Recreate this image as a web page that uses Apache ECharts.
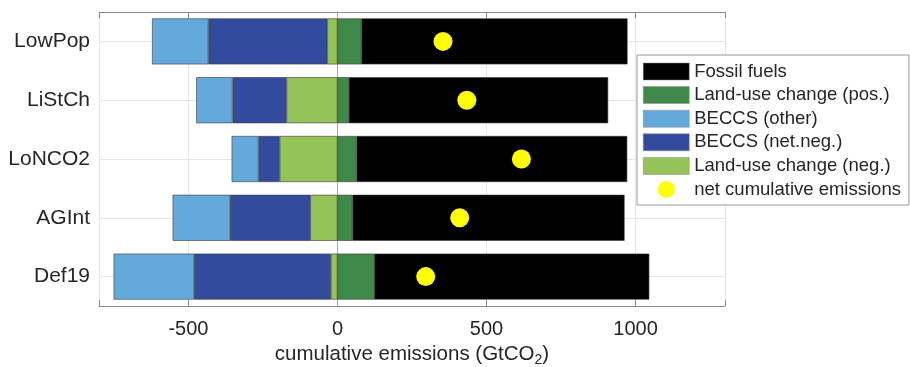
<!DOCTYPE html>
<html>
<head>
<meta charset="utf-8">
<script src="https://cdn.jsdelivr.net/npm/echarts@6/dist/echarts.min.js"></script>
<style>html,body{margin:0;padding:0;background:#fff}#c{width:910px;height:367px}</style>
</head>
<body>
<div id="c"></div>
<script>
const categories = ['LowPop', 'LiStCh', 'LoNCO2', 'AGInt', 'Def19'];
const fossilFuels = [893, 870, 908, 913, 923];
const lucPos = [80, 38, 64, 50, 123];
const lucNeg = [-34, -171, -194, -91, -22];
const beccsNetNeg = [-399, -181, -71, -269, -459];
const beccsOther = [-189, -122, -90, -193, -270];
const netCumulative = [354, 434, 617, 410, 296];
const xTickLabels = [-500, 0, 500, 1000];

const FONT = 'Liberation Sans, Arial, Helvetica, sans-serif';
const axisGray = '#8a8a8a';
const txt = '#262626';

const barBase = {
  type: 'bar', stack: 'total', barWidth: 46,
  xAxisIndex: 0, yAxisIndex: 0,
  itemStyle: { borderColor: '#3a3a3a', borderWidth: 0.6 },
  emphasis: { disabled: true }, z: 2
};

const chart = echarts.init(document.getElementById('c'));
chart.setOption({
  animation: false,
  textStyle: { fontFamily: FONT },
  grid: { left: 99, right: 185, top: 12, bottom: 61, containLabel: false, outerBoundsMode: 'none' },
  legend: {
    orient: 'vertical', left: 637, top: 55,
    itemWidth: 46, itemHeight: 17, itemGap: 4.6,
    padding: [7, 8, 6, 6],
    backgroundColor: '#fff', borderColor: '#999', borderWidth: 1,
    itemStyle: { borderWidth: 0.5, borderColor: '#888' },
    textStyle: { fontSize: 18.5, color: txt, fontFamily: FONT, lineHeight: 17 },
    data: [
      { name: 'Fossil fuels', icon: 'rect' },
      { name: 'Land-use change (pos.)', icon: 'rect' },
      { name: 'BECCS (other)', icon: 'rect' },
      { name: 'BECCS (net.neg.)', icon: 'rect' },
      { name: 'Land-use change (neg.)', icon: 'rect' },
      { name: 'net cumulative emissions', icon: 'circle', itemStyle: { borderWidth: 0 } }
    ],
    z: 10
  },
  xAxis: [{
    type: 'value', min: -800, max: 1300, position: 'bottom',
    axisLine: { show: true, lineStyle: { color: axisGray, width: 1 } },
    axisTick: { show: true, inside: true, length: 6, lineStyle: { color: axisGray } },
    axisLabel: {
      fontSize: 20, color: txt, margin: 13, fontFamily: FONT,
      formatter: v => xTickLabels.indexOf(v) >= 0 ? String(v) : ''
    },
    splitLine: { show: true, lineStyle: { color: '#e6e6e6', width: 1 } },
    name: 'cumulative emissions (GtCO{sub|2})',
    nameLocation: 'middle', nameGap: 33,
    nameTextStyle: {
      fontSize: 20.5, color: txt, fontFamily: FONT,
      rich: { sub: { fontSize: 14, color: txt, fontFamily: FONT, padding: [12, 0, 0, 0] } }
    }
  }, {
    type: 'value', min: -800, max: 1300, position: 'top',
    axisLine: { show: true, lineStyle: { color: axisGray, width: 1 } },
    axisTick: { show: true, inside: true, length: 6, lineStyle: { color: axisGray } },
    axisLabel: { show: false },
    splitLine: { show: false }
  }],
  yAxis: [{
    type: 'category', data: categories, inverse: true, position: 'left',
    axisLine: { show: true, lineStyle: { color: axisGray, width: 1 } },
    axisTick: { show: true, inside: true, length: 6, alignWithLabel: true, lineStyle: { color: axisGray } },
    axisLabel: { fontSize: 21, color: txt, margin: 9, fontFamily: FONT },
    splitLine: { show: false }
  }, {
    type: 'category', data: categories, inverse: true, position: 'right',
    axisLine: { show: true, lineStyle: { color: axisGray, width: 1 } },
    axisTick: { show: true, inside: true, length: 6, alignWithLabel: true, lineStyle: { color: axisGray } },
    axisLabel: { show: false },
    splitLine: { show: false }
  }],
  series: [
    Object.assign({}, barBase, { name: 'Land-use change (pos.)', data: lucPos, itemStyle: Object.assign({}, barBase.itemStyle, { color: '#3f8a48' }) }),
    Object.assign({}, barBase, { name: 'Fossil fuels', data: fossilFuels, itemStyle: Object.assign({}, barBase.itemStyle, { color: '#000000' }) }),
    Object.assign({}, barBase, { name: 'Land-use change (neg.)', data: lucNeg, itemStyle: Object.assign({}, barBase.itemStyle, { color: '#96c357' }) }),
    Object.assign({}, barBase, { name: 'BECCS (net.neg.)', data: beccsNetNeg, itemStyle: Object.assign({}, barBase.itemStyle, { color: '#334b9d' }) }),
    Object.assign({}, barBase, { name: 'BECCS (other)', data: beccsOther, itemStyle: Object.assign({}, barBase.itemStyle, { color: '#63a9dc' }) }),
    {
      name: 'net cumulative emissions', type: 'scatter',
      xAxisIndex: 0, yAxisIndex: 0,
      symbol: 'circle', symbolSize: 19,
      itemStyle: { color: '#ffff00', opacity: 1 },
      emphasis: { disabled: true },
      z: 5,
      data: netCumulative.map((v, i) => [v, categories[i]]),
      markLine: {
        silent: true, symbol: 'none', z: 1,
        label: { show: false },
        animation: false,
        data: categories.map(c => ({ yAxis: c, lineStyle: { color: '#e6e6e6', width: 1, type: 'solid' } }))
          .concat([{ xAxis: 0, lineStyle: { color: '#a8a8a8', width: 1, type: 'solid' } }])
      }
    }
  ]
});
</script>
</body>
</html>
